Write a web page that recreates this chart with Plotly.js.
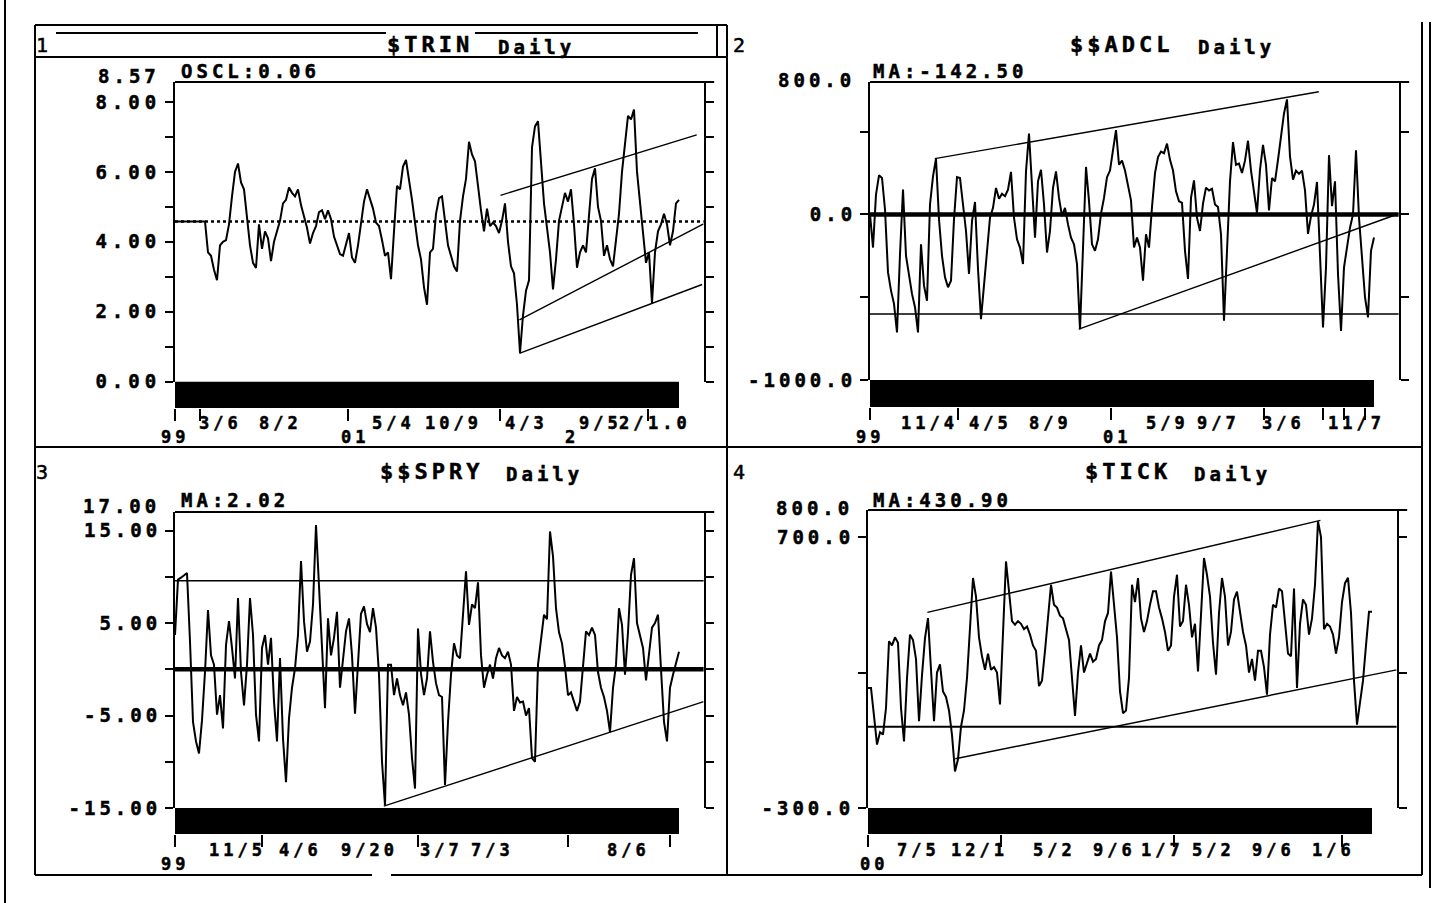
<!DOCTYPE html>
<html>
<head>
<meta charset="utf-8">
<script src="https://cdn.plot.ly/plotly-3.0.1.min.js"></script>
<style>
html,body{margin:0;padding:0;background:#fff;}
#chart{width:1453px;height:903px;}
#chart text{letter-spacing:4px;stroke:#000;stroke-width:0.5px;}
#chart .ytick text{letter-spacing:5px;}
</style>
</head>
<body>
<div id="chart"></div>
<script>
// ---------------- DATA ----------------
// Daily values, one entry per sample along the time axis
const trinValues = [
 4.58,4.58,4.58,4.58,4.58,4.58,4.58,4.58,4.58,4.58,4.58,
 3.7,3.6,3.2,2.9,3.9,4.0,4.05,4.5,5.3,6.0,
 6.24,5.7,5.5,4.6,3.9,3.4,3.25,4.5,3.8,4.3,
 4.1,3.45,4.0,4.3,4.6,5.1,5.2,5.55,5.4,5.3,
 5.5,5.05,4.75,4.4,3.95,4.25,4.45,4.85,4.9,4.65,
 4.9,4.65,4.15,3.9,3.65,3.6,3.95,4.25,3.55,3.4,
 3.9,4.55,5.15,5.5,5.25,4.95,4.55,4.45,4.05,3.6,
 3.7,2.93,4.3,5.6,5.5,6.15,6.34,5.8,5.2,4.55,
 3.9,3.5,2.7,2.2,3.7,3.8,4.8,5.25,5.3,4.6,
 3.9,3.6,3.3,3.15,4.6,5.3,5.8,6.86,6.5,6.3,
 5.5,4.9,4.3,4.95,4.45,4.55,4.45,4.25,4.6,5.1,
 4.0,3.3,3.1,2.2,0.82,1.9,2.6,2.9,6.7,7.3,
 7.45,6.2,5.1,4.4,3.7,2.64,3.5,4.6,5.0,5.4,
 5.15,5.5,4.5,3.26,3.7,3.9,3.7,4.85,5.8,6.1,
 5.0,4.6,3.6,3.9,3.5,3.3,4.1,4.8,6.0,6.8,
 7.6,7.5,7.78,6.0,5.1,4.3,3.4,3.7,2.25,3.7,
 4.3,4.5,4.8,4.5,3.9,4.3,5.1,5.2
];
const adclValues = [
 0,-200,120,236,220,30,-350,-460,-540,-713,
 -240,150,-250,-380,-480,-560,-713,-180,-430,-521,
 60,230,337,-30,-250,-380,-440,-400,-30,226,
 220,60,-100,-360,-40,75,-330,-632,-440,-250,
 -20,40,160,95,125,110,150,257,-20,-150,
 -200,-299,260,489,200,-140,200,270,60,-230,
 -100,160,260,100,-10,40,-60,-140,-180,-300,
 -693,-200,287,80,-180,-220,-150,5,100,225,
 265,388,509,300,325,265,185,85,-200,-140,
 -200,-400,-120,-200,45,250,347,380,370,428,
 330,265,140,80,70,-220,-390,100,206,-20,
 -100,65,162,145,155,60,45,-120,-642,-200,
 200,437,300,307,250,325,445,265,145,10,
 270,420,300,25,220,200,330,489,610,695,
 350,210,265,245,265,145,-117,-10,60,196,
 -290,-683,-320,358,50,200,-360,-703,-320,-200,
 -80,0,388,-20,-260,-500,-622,-220,-139
];
const spryValues = [
 3.7,9.7,9.9,10.2,10.4,3.0,-5.7,-7.8,-9.1,-5.5,
 -0.3,6.4,1.5,0.5,-4.9,-2.8,-6.4,2.6,5.2,2.3,
 -1.0,7.7,-0.3,-3.9,0.5,7.7,3.7,-4.9,-7.8,2.3,
 3.7,0.5,3.4,-3.5,-7.8,1.2,-7.5,-12.2,-5.3,-2.0,
 0.1,3.7,11.7,5.2,1.9,3.0,7.0,15.6,9.1,1.9,
 -4.2,5.5,1.5,3.4,6.2,-2.0,0.9,4.1,5.5,1.5,
 -4.8,0.5,6.0,6.8,4.9,4.0,6.6,4.5,-0.6,-10.0,
 -14.7,0.5,0.5,-2.8,-1.0,-2.8,-3.9,-2.5,-4.9,-9.6,
 -12.9,4.4,-0.5,-2.8,-1.0,4.1,0.8,-1.5,-2.8,-3.0,
 -12.5,-5.7,-0.6,2.8,1.5,1.2,5.9,10.6,4.8,7.0,
 6.6,9.4,1.5,-2.0,-0.6,0.5,-1.0,1.2,2.3,1.5,
 1.2,1.9,0.5,-4.5,-3.0,-3.6,-3.5,-5.0,-4.2,-9.6,
 -10.0,0.5,3.2,5.9,5.4,14.9,12.2,6.6,4.0,2.8,
 0.3,-2.8,-2.5,-3.5,-4.5,-3.5,0.5,4.1,3.7,4.5,
 3.7,-0.3,-2.0,-3.0,-4.5,-6.8,-2.0,0.5,6.6,4.8,
 -0.6,4.0,10.2,12.0,5.0,3.8,2.3,-1.2,1.5,4.5,
 5.0,5.9,0.0,-5.7,-7.8,-2.0,-0.6,0.8,1.9
];
const tickValues = [
 143,143,40,-66,-20,-29,69,315,300,330,
 310,69,-54,180,340,320,250,20,190,327,
 401,200,20,200,230,130,110,60,-30,-165,
 -120,0,60,180,350,549,480,330,260,210,
 270,210,220,200,82,340,610,500,390,377,
 390,380,360,370,340,300,280,150,170,280,
 400,524,450,440,410,400,360,320,180,40,
 200,300,200,240,270,240,250,300,320,389,
 420,573,450,330,130,50,60,180,524,460,
 549,400,350,390,450,500,500,440,400,350,
 280,300,480,561,370,390,524,450,330,380,
 204,400,623,560,480,310,192,420,549,480,
 300,350,470,499,420,350,300,200,250,170,
 280,280,220,118,340,450,440,510,500,380,
 270,260,510,143,380,470,450,340,400,524,
 758,700,360,380,370,340,270,330,460,530,
 550,420,170,8,100,170,300,424,424
];

// Reference levels and trend lines (sample index, value)
const trinLevels = [4.58];
const trinTrendX = [[108.5,173.9],[114.8,176.2],[114.8,175.7]];
const trinTrendY = [[5.33,7.06],[1.77,4.51],[0.81,2.78]];
const adclLevels = [0,-602];
const adclTrendX = [[21.6,149.6],[69.6,176.2]];
const adclTrendY = [[337,741],[-693,4]];
const spryLevels = [0,9.57];
const spryTrendX = [[69.6,176.2]];
const spryTrendY = [[-14.8,-3.5]];
const tickLevels = [0];
const tickTrendX = [[19.8,150.8],[29.1,176.2]];
const tickTrendY = [[422,761.5],[-118,210]];

// Y axes (top-of-scale label is drawn separately, just above the frame)
const trinYTicks = [0,2,4,6,8];
const trinYText  = ["0.00","2.00","4.00","6.00","8.00"];
const trinYMinor = [1,3,5,7];
const trinYTop   = "8.57";
const adclYTicks = [-1000,0];
const adclYText  = ["-1000.0","0.0"];
const adclYMinor = [-500,500];
const adclYTop   = "800.0";
const spryYTicks = [-15,-5,5,15];
const spryYText  = ["-15.00","-5.00","5.00","15.00"];
const spryYMinor = [-10,0,10];
const spryYTop   = "17.00";
const tickYTicks = [-300,700];
const tickYText  = ["-300.0","700.0"];
const tickYMinor = [200];
const tickYTop   = "800.0";

// X axes (time) : tick marks, month/day labels, year labels
const trinXMarks = [0,8.3,57.7,108.3,157.7];
const trinMonthText = ["3/6","8/2","5/4","10/9","4/3","9/5","2/","1.0"];
const trinMonthPos  = [15.3,35.3,72.7,92.7,117.3,141.7,152.5,164.7];
const trinYearText = ["99","01","2"];
const trinYearPos  = [0,60,132.3];

const adclXMarks = [0,29.3,80.3,131.3,151,158,165];
const adclMonthText = ["11/4","4/5","8/9","5/9","9/7","3/6","11/7"];
const adclMonthPos  = [19.7,40,60,99.3,116,137.7,162];
const adclYearText = ["99","01"];
const adclYearPos  = [0,82.3];

const spryXMarks = [0,29,81,131,165];
const spryMonthText = ["11/5","4/6","9/20","3/7","7/3","8/6"];
const spryMonthPos  = [20.7,41.7,64.7,88.7,105.7,151];
const spryYearText = ["99"];
const spryYearPos  = [0];

const tickXMarks = [0,44.3,102,158];
const tickMonthText = ["7/5","12/1","5/2","9/6","1/7","5/2","9/6","1/6"];
const tickMonthPos  = [16.7,37.3,62.3,82,98.3,115.3,135,155];
const tickYearText = ["00"];
const tickYearPos  = [2];

// Texts
const panelNumbers = ["1","2","3","4"];
const panelTitles  = ["$TRIN","$$ADCL","$$SPRY","$TICK"];
const periodText   = "Daily";
const studyText    = ["OSCL:0.06","MA:-142.50","MA:2.02","MA:430.90"];

// ---------------- LAYOUT ----------------
const W = 1453, H = 903;
const FONT = "DejaVu Sans Mono";
const SPACING = 4;   // css letter-spacing of annotation text (px)
const px = v => v / W;
const py = v => 1 - v / H;
const X_MAX = 176.2;
const PX_PER = 3;

const panels = [
 {values:trinValues, left:175, top:82, bottom:381.7, band:408, range:[0,8.57],
  yt:trinYTicks, ytx:trinYText, ym:trinYMinor, ytop:trinYTop, ytopY:76, xm:trinXMarks,
  mt:trinMonthText, mp:trinMonthPos, yrt:trinYearText, yrp:trinYearPos, rowM:423, rowY:437,
  levels:trinLevels, levelStyle:[{width:2.5,dash:'dot'}], tx:trinTrendX, ty:trinTrendY,
  num:[44,45], title:[430,45], daily:[536,47], study:[180,71]},
 {values:adclValues, left:870, top:82, bottom:380, band:407, range:[-1000,800],
  yt:adclYTicks, ytx:adclYText, ym:adclYMinor, ytop:adclYTop, ytopY:80, xm:adclXMarks,
  mt:adclMonthText, mp:adclMonthPos, yrt:adclYearText, yrp:adclYearPos, rowM:423, rowY:437,
  levels:adclLevels, levelStyle:[{width:4.5,dash:'solid'},{width:1.5,dash:'solid'}], tx:adclTrendX, ty:adclTrendY,
  num:[741,45], title:[1121,45], daily:[1236,47], study:[872,71]},
 {values:spryValues, left:175, top:512, bottom:808, band:834, range:[-15,17],
  yt:spryYTicks, ytx:spryYText, ym:spryYMinor, ytop:spryYTop, ytopY:506, xm:spryXMarks,
  mt:spryMonthText, mp:spryMonthPos, yrt:spryYearText, yrp:spryYearPos, rowM:850, rowY:864,
  levels:spryLevels, levelStyle:[{width:4.5,dash:'solid'},{width:1.5,dash:'solid'}], tx:spryTrendX, ty:spryTrendY,
  num:[44,472], title:[432,472], daily:[544,474], study:[180,500]},
 {values:tickValues, left:868, top:510, bottom:808, band:834, range:[-300,800],
  yt:tickYTicks, ytx:tickYText, ym:tickYMinor, ytop:tickYTop, ytopY:508, xm:tickXMarks,
  mt:tickMonthText, mp:tickMonthPos, yrt:tickYearText, yrp:tickYearPos, rowM:850, rowY:864,
  levels:tickLevels, levelStyle:[{width:1.8,dash:'solid'}], tx:tickTrendX, ty:tickTrendY,
  num:[741,472], title:[1128,472], daily:[1232,474], study:[872,500]}
];

const layout = {
  width:W, height:H, margin:{l:0,r:0,t:0,b:0},
  paper_bgcolor:'#ffffff', plot_bgcolor:'rgba(0,0,0,0)',
  showlegend:false, font:{family:FONT, color:'#000'},
  shapes:[], annotations:[]
};
const traces = [];
const txt = (text, x, y, size, opts) => Object.assign({
  text:text, x:x, y:y, xref:'paper', yref:'paper', showarrow:false,
  xanchor:'center', yanchor:'middle', borderpad:0,
  font:{family:FONT, size:size, color:'#000', weight:'bold'}
}, opts || {});

panels.forEach((p, k) => {
  const n = k === 0 ? '' : String(k + 1);
  const xN = 'x' + n, yN = 'y' + n;
  layout['xaxis' + n] = {
    domain:[px(p.left), px(p.left + X_MAX * PX_PER)], range:[0, X_MAX],
    anchor:'free', position:py(p.band), showline:false, showgrid:false, zeroline:false,
    tickmode:'array', tickvals:p.xm, showticklabels:false,
    ticks:'outside', ticklen:12, tickwidth:2, tickcolor:'#000', fixedrange:true
  };
  layout['yaxis' + n] = {
    domain:[py(p.bottom), py(p.top)], range:p.range, anchor:xN,
    showline:true, linewidth:2, linecolor:'#000', mirror:'ticks',
    showgrid:false, zeroline:false, fixedrange:true,
    tickmode:'array', tickvals:p.yt, ticktext:p.ytx,
    ticks:'outside', ticklen:8, tickwidth:2, tickcolor:'#000',
    tickfont:{family:FONT, size:19, color:'#000', weight:'bold'},
    minor:{tickmode:'array', tickvals:p.ym, ticks:'outside', ticklen:8, tickwidth:2, tickcolor:'#000'}
  };
  // main series
  traces.push({type:'scatter', mode:'lines', y:p.values, xaxis:xN, yaxis:yN,
    line:{color:'#000', width:2}, hoverinfo:'skip'});
  // trend lines
  p.tx.forEach((xs, j) => traces.push({type:'scatter', mode:'lines', x:xs, y:p.ty[j],
    xaxis:xN, yaxis:yN, line:{color:'#000', width:1.4}, hoverinfo:'skip'}));
  // reference levels
  p.levels.forEach((lv, j) => layout.shapes.push({type:'line', xref:xN + ' domain', x0:0, x1:1,
    yref:yN, y0:lv, y1:lv, line:{color:'#000', width:p.levelStyle[j].width, dash:p.levelStyle[j].dash}}));
  // top border
  layout.shapes.push({type:'line', xref:xN + ' domain', x0:0, x1:1.02, yref:yN + ' domain', y0:1, y1:1,
    line:{color:'#000', width:2}});
  // black time band spanning the data
  layout.shapes.push({type:'rect', xref:xN, x0:0, x1:p.values.length - 1,
    yref:yN + ' domain', y0:-(p.band - p.bottom) / (p.bottom - p.top), y1:0,
    fillcolor:'#000', line:{width:0}});
  // top-of-scale label (right aligned; letter-spacing spills half its extra width past the box)
  layout.annotations.push(txt(p.ytop, px(p.left - 14 - p.ytop.length * SPACING / 2), py(p.ytopY), 19, {xanchor:'right'}));
  // time labels
  p.mt.forEach((t, j) => layout.annotations.push(txt(t, p.mp[j], py(p.rowM), 17, {xref:xN})));
  p.yrt.forEach((t, j) => layout.annotations.push(txt(t, p.yrp[j], py(p.rowY), 17, {xref:xN})));
  // header texts
  layout.annotations.push(txt(panelNumbers[k], px(p.num[0]), py(p.num[1]), 20,
    {font:{family:FONT, size:20, color:'#000', weight:'normal'}}));
  layout.annotations.push(txt(panelTitles[k], px(p.title[0]), py(p.title[1]), 22));
  layout.annotations.push(txt(periodText, px(p.daily[0]), py(p.daily[1]), 19));
  layout.annotations.push(txt(studyText[k], px(p.study[0] + studyText[k].length * SPACING / 2), py(p.study[1]), 19, {xanchor:'left'}));
});

// window frames
const frame = (x0, y0, x1, y1, w) => layout.shapes.push({type:'line', xref:'paper', yref:'paper',
  x0:px(x0), x1:px(x1), y0:py(y0), y1:py(y1), line:{color:'#000', width:w || 2}});
frame(5, 0, 5, 903);
frame(35, 25, 35, 875);
frame(35, 25, 727, 25);
frame(56, 33, 386, 33);
frame(475, 33, 698, 33);
frame(35, 57, 727, 57);
frame(717, 25, 717, 57);
frame(727, 25, 727, 875);
frame(35, 447, 1422, 447);
frame(35, 875, 372, 875);
frame(391, 875, 1422, 875);
frame(1422, 22, 1422, 875);
frame(1430, 22, 1430, 888);

Plotly.newPlot('chart', traces, layout, {staticPlot:true, displayModeBar:false});
</script>
</body>
</html>
